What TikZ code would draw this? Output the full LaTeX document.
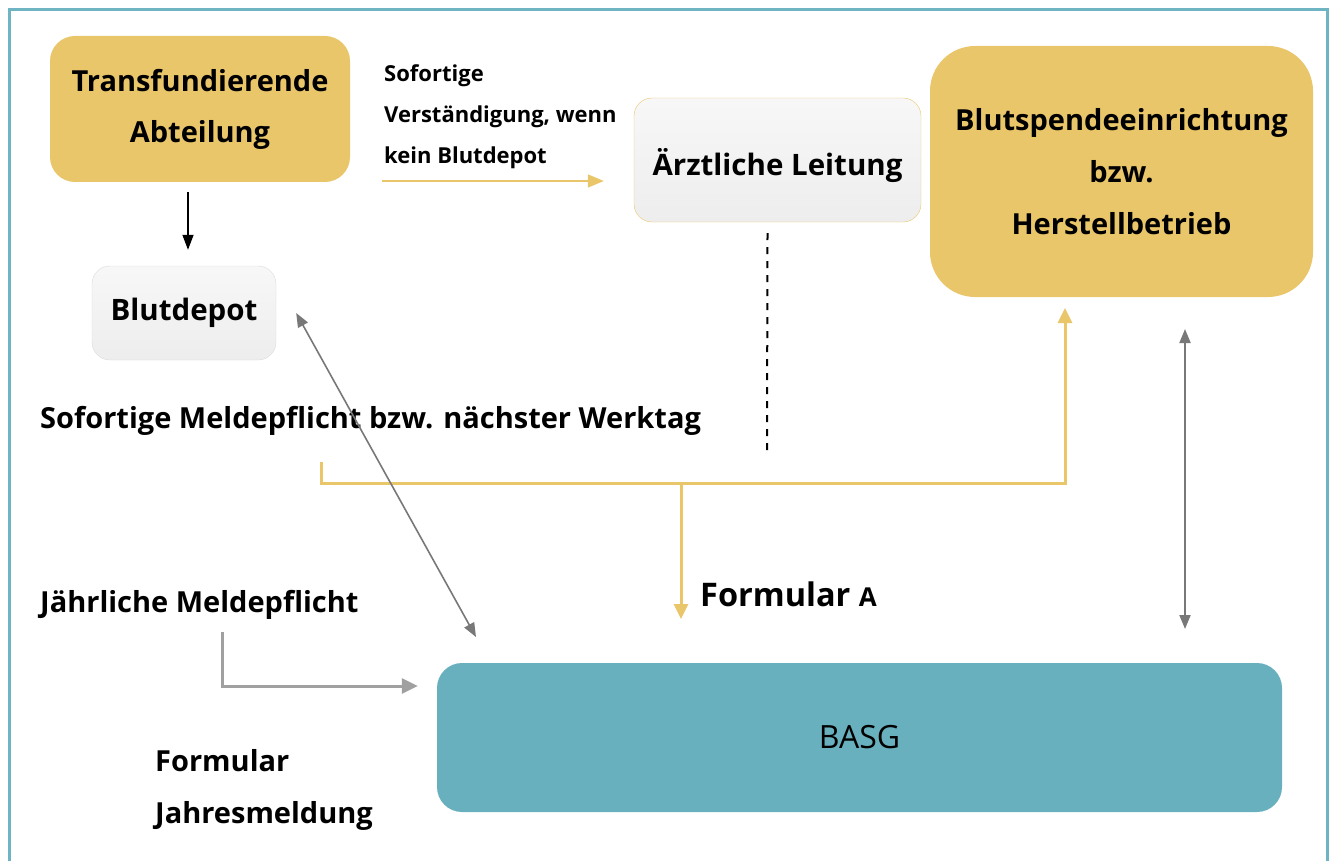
\documentclass[tikz,border=0pt]{standalone}
\usepackage{fontspec}
\setmainfont{Open Sans}
\usetikzlibrary{arrows.meta}
\definecolor{boxgold}{RGB}{234,198,106}
\definecolor{basgteal}{RGB}{104,176,190}
\definecolor{framecol}{RGB}{110,180,195}
\definecolor{arrowgray}{RGB}{120,120,120}
\definecolor{lgray}{RGB}{160,160,160}

\tikzset{
  goldbox/.style={fill=boxgold, rounded corners=25pt, align=center,
    font=\bfseries\fontsize{29}{51}\selectfont},
  graybox/.style={draw=#1, top color=white!97!black, bottom color=white!93!black,
    rounded corners=18pt, align=center, font=\bfseries\fontsize{29.5}{34}\selectfont},
  label/.style={inner sep=0pt, align=left, font=\bfseries\fontsize{29}{52}\selectfont},
  goldline/.style={boxgold, line width=3pt, -{Triangle[width=14pt,length=15pt]}},
  grayline/.style={arrowgray, line width=1.6pt, {Triangle[width=11pt,length=14pt]}-{Triangle[width=11pt,length=14pt]}}
}

\begin{document}
\begin{tikzpicture}[x=1pt, y=-1pt]
  \useasboundingbox (0,0) rectangle (1332,861);
  % Frame
  \draw[framecol, line width=3pt] (9,861) -- (9,10) -- (1327,10) -- (1327,861);
  % Boxes
  \node[goldbox, minimum width=300pt, minimum height=146pt] (trans) at (200,109)
    {Transfundierende\\Abteilung};
  \node[graybox=white!86!black, minimum width=184pt, minimum height=94pt] (depot) at (184,313)
    {Blutdepot};
  \node[graybox=boxgold, minimum width=287pt, minimum height=124pt, text height=37pt, text depth=6pt]
    (arzt) at (777.5,160) {Ärztliche Leitung};
  \node[goldbox, rounded corners=45pt, minimum width=383pt, minimum height=251pt, font=\bfseries\fontsize{29}{52}\selectfont]
    (spende) at (1121.5,171.5) {Blutspendeeinrichtung\\bzw.\\Herstellbetrieb};
  \node[fill=basgteal, rounded corners=25pt, minimum width=845pt, minimum height=149pt,
    font=\fontsize{32}{38}\selectfont] (basg) at (859.5,737.5) {BASG};
  % Labels
  \node[label, anchor=west, font=\bfseries\fontsize{22}{41}\selectfont] (verst) at (384,117)
    {Sofortige\\Verständigung, wenn\\kein Blutdepot};
  \node[label, anchor=west] (sofort) at (40,421) {Sofortige Meldepflicht bzw. nächster Werktag};
  \node[label, anchor=west] (jahr) at (40,605) {Jährliche Meldepflicht};
  \node[label, anchor=west] (fjahr) at (155,790) {Formular\\Jahresmeldung};
  \node[label, anchor=base west, font=\bfseries\fontsize{32.5}{38}\selectfont] (forma) at (700,606)
    {Formular {\fontsize{26}{30}\selectfont A}};
  % Connector ends
  \coordinate (meld) at (321,462);
  \coordinate (bus) at (681,483);
  \coordinate (spin) at (1065,308);
  \coordinate (faend) at (681,619);
  \coordinate (jstart) at (222,632);
  % Transfundierende -> Blutdepot
  \draw[line width=1.5pt, -{Triangle[width=11pt,length=15pt]}] ([xshift=-12pt, yshift=-10pt]trans.south)
    -- ([xshift=4pt, yshift=16pt]depot.north);
  % Verstaendigung
  \draw[boxgold, line width=1.5pt, -{Triangle[width=13pt,length=16pt]}] (382,181) -- ([xshift=-30pt]arzt.west |- 0,181);
  % Aerztliche Leitung, dashed
  \draw[line width=2pt, dash pattern=on 7pt off 7pt] ([xshift=-10pt, yshift=-11pt]arzt.south) -- (767,450);
  % Meldung an Blutspende und BASG
  \draw[goldline] (meld) |- (bus) -| (spin);
  \draw[goldline] (bus) -- (faend);
  % Blutdepot <-> BASG
  \draw[grayline] ([xshift=20pt]depot.east) -- (476,637);
  % Blutspende <-> BASG
  \draw[grayline, line width=2pt] (1185,329) -- (1185,629);
  % Jahresmeldung
  \draw[lgray, line width=3pt, -{Triangle[width=15pt,length=16pt]}] (jstart) |- ([xshift=-19pt]basg.west |- 0,686);
\end{tikzpicture}
\end{document}
